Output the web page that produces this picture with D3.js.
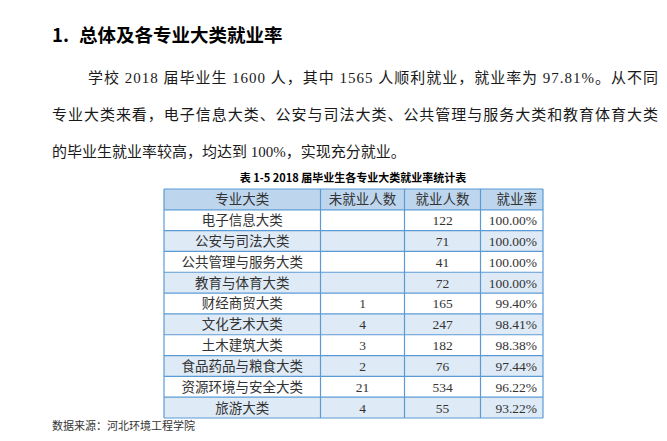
<!DOCTYPE html>
<html>
<head>
<meta charset="utf-8">
<script src="https://cdn.jsdelivr.net/npm/d3@7"></script>
<style>
  body { margin: 0; background: #fff; }
  svg { display: block; }
</style>
</head>
<body>
<svg width="667" height="441"></svg>
<script>
// table data
var categories = ["电子信息大类", "公安与司法大类", "公共管理与服务大类", "教育与体育大类", "财经商贸大类",
  "文化艺术大类", "土木建筑大类", "食品药品与粮食大类", "资源环境与安全大类", "旅游大类"];
var unemployed = [null, null, null, null, 1, 4, 3, 2, 21, 4];
var employed = [122, 71, 41, 72, 165, 247, 182, 76, 534, 55];
var rates = ["100.00%", "100.00%", "100.00%", "100.00%", "99.40%", "98.41%", "98.38%", "97.44%", "96.22%", "93.22%"];
var headers = ["专业大类", "未就业人数", "就业人数", "就业率"];

var svg = d3.select("svg");
var serif = "'Liberation Serif', 'Noto Sans CJK SC', serif";
var sans = "'Noto Sans CJK SC', sans-serif";

// heading
var head = svg.append("g").style("font-family", sans).style("font-weight", "bold").style("font-size", "18.5px");
head.append("text").attr("x", 52).attr("y", 42).text("1.");
head.append("text").attr("x", 79).attr("y", 42).text("总体及各专业大类就业率");

// paragraph lines, justified like the document
var lines = [
  {t: "学校 2018 届毕业生 1600 人，其中 1565 人顺利就业，就业率为 97.81%。从不同", x: 88, y: 83, w: 570},
  {t: "专业大类来看，电子信息大类、公安与司法大类、公共管理与服务大类和教育体育大类", x: 52, y: 120, w: 606},
  {t: "的毕业生就业率较高，均达到 100%，实现充分就业。", x: 52, y: 157, w: null}
];
svg.selectAll("text.para").data(lines).enter().append("text")
  .attr("class", "para")
  .attr("x", d => d.x).attr("y", d => d.y)
  .attr("textLength", d => d.w)
  .attr("lengthAdjust", "spacing")
  .style("font-family", serif).style("font-size", "15px").style("fill", "#1a1a1a")
  .text(d => d.t);

// caption
svg.append("text")
  .attr("x", 353).attr("y", 182)
  .attr("text-anchor", "middle")
  .style("font-family", sans).style("font-weight", "bold").style("font-size", "11px")
  .text("表 1-5 2018 届毕业生各专业大类就业率统计表");

// table layout
var colEdges = [164, 320.5, 404.5, 480.5, 543];
var nRows = categories.length + 1;
var y = d3.scaleBand().domain(d3.range(nRows)).range([189, 418]);

var rowData = categories.map(function(c, i) {
  return [c, unemployed[i] == null ? "" : unemployed[i], employed[i], rates[i]];
});
var allRows = [headers].concat(rowData);

var table = svg.append("g");
var rowG = table.selectAll("g.row").data(allRows).enter().append("g")
  .attr("class", "row")
  .attr("transform", (d, i) => "translate(0," + y(i) + ")");

rowG.append("rect")
  .attr("x", colEdges[0]).attr("width", colEdges[4] - colEdges[0])
  .attr("height", y.bandwidth())
  .attr("fill", (d, i) => i === 0 ? "#bdd6ee" : (i % 2 === 0 ? "#deeaf6" : "#ffffff"));

rowG.selectAll("text").data(d => d).enter().append("text")
  .attr("x", function(d, j) {
    if (j === 3) return colEdges[4] - 6;
    return (colEdges[j] + colEdges[j + 1]) / 2;
  })
  .attr("y", y.bandwidth() / 2 + 5)
  .attr("text-anchor", (d, j) => j === 3 ? "end" : "middle")
  .style("font-family", serif).style("font-size", "13.5px").style("fill", "#333")
  .text(d => d);

// grid lines
var border = "#5b9bd5";
table.selectAll("line.h").data(d3.range(nRows + 1)).enter().append("line")
  .attr("x1", colEdges[0]).attr("x2", colEdges[4])
  .attr("y1", i => i === nRows ? y.range()[1] : y(i))
  .attr("y2", i => i === nRows ? y.range()[1] : y(i))
  .attr("stroke", border).attr("stroke-width", 1.2);
table.selectAll("line.v").data(colEdges).enter().append("line")
  .attr("x1", d => d).attr("x2", d => d)
  .attr("y1", y.range()[0]).attr("y2", y.range()[1])
  .attr("stroke", border).attr("stroke-width", 1.2);

// source
svg.append("text")
  .attr("x", 52).attr("y", 430)
  .style("font-family", serif).style("font-size", "11px").style("fill", "#333")
  .text("数据来源：河北环境工程学院");
</script>
</body>
</html>
